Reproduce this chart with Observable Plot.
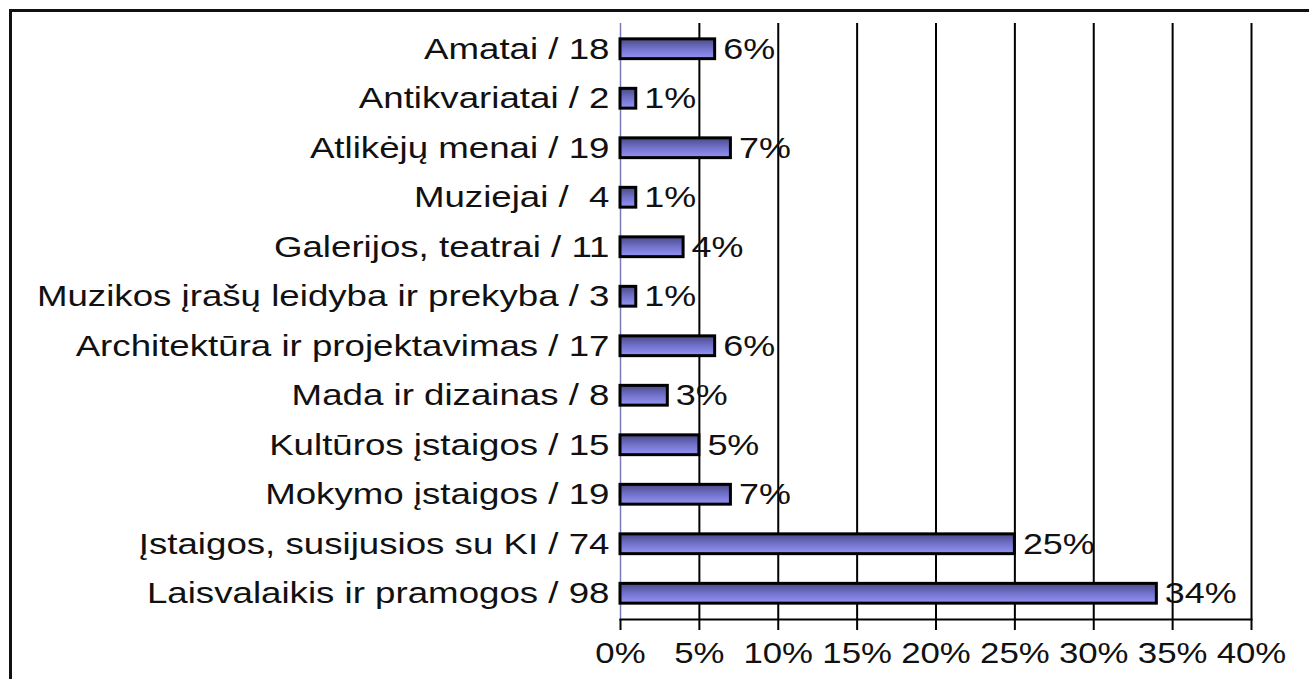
<!DOCTYPE html>
<html>
<head>
<meta charset="utf-8">
<script src="https://cdn.jsdelivr.net/npm/d3@7"></script>
<script src="https://cdn.jsdelivr.net/npm/@observablehq/plot@0.6"></script>
<style>
  html, body { margin: 0; padding: 0; background: #fff; overflow: hidden; width: 1309px; height: 679px; }
  #frame { position: absolute; left: 9px; top: 9px; width: 1320px; height: 720px; border: 3px solid #111; box-sizing: border-box; }
  #chart { position: absolute; left: 0; top: 0; }
  svg { font-family: "Liberation Sans", Arial, sans-serif; }
</style>
</head>
<body>
<div id="frame"></div>
<div id="chart"></div>
<script>
const categories = [
  "Amatai / 18",
  "Antikvariatai / 2",
  "Atlikėjų menai / 19",
  "Muziejai /  4",
  "Galerijos, teatrai / 11",
  "Muzikos įrašų leidyba ir prekyba / 3",
  "Architektūra ir projektavimas / 17",
  "Mada ir dizainas / 8",
  "Kultūros įstaigos / 15",
  "Mokymo įstaigos / 19",
  "Įstaigos, susijusios su KI / 74",
  "Laisvalaikis ir pramogos / 98"
];
const percents = [6, 1, 7, 1, 4, 1, 6, 3, 5, 7, 25, 34];
const xTicks = [0, 5, 10, 15, 20, 25, 30, 35, 40];

const data = categories.map((c, i) => ({ cat: c, v: percents[i] }));

const chart = Plot.plot({
  width: 1309,
  height: 679,
  marginLeft: 620,
  marginRight: 58,
  marginTop: 23,
  marginBottom: 60,
  style: { fontFamily: "Liberation Sans, Arial, sans-serif", background: "transparent" },
  x: { domain: [0, 40], label: null },
  y: { domain: categories, paddingInner: 0.6, paddingOuter: 0.32, round: false, label: null },
  marks: [
    Plot.ruleX(xTicks.filter(d => d > 0), { stroke: "#000", strokeWidth: 2 }),
    Plot.ruleX([0], { stroke: "#7a7ab8", strokeWidth: 1.5 }),
    Plot.frame({ anchor: "bottom", stroke: "#000", strokeWidth: 2 }),
    Plot.axisX({ ticks: xTicks, tickFormat: d => d + "%", tickSize: 11, tickPadding: 12, fontSize: 29, stroke: "#000", strokeWidth: 2, color: "#111", label: null }),
    Plot.axisY({ tickSize: 0, tickPadding: 11, fontSize: 29, color: "#111", label: null }),
    Plot.barX(data, { x: "v", y: "cat", fill: "url(#barGrad)", stroke: "#000", strokeWidth: 3 }),
    Plot.text(data, { x: "v", y: "cat", text: d => d.v + "%", textAnchor: "start", dx: 8, fontSize: 29, fill: "#111" })
  ]
});

const defs = document.createElementNS("http://www.w3.org/2000/svg", "defs");
defs.innerHTML = `<linearGradient id="barGrad" x1="0" y1="0" x2="0" y2="1">
  <stop offset="0%" stop-color="#4a4a86"/>
  <stop offset="50%" stop-color="#7272cc"/>
  <stop offset="100%" stop-color="#9494f4"/>
</linearGradient>`;
chart.insertBefore(defs, chart.firstChild);
// The reference's lettering is horizontally stretched; widen each text around its anchor.
const catSet = new Set(categories);
chart.querySelectorAll("text").forEach(t => {
  const s = t.textContent;
  const g = t.closest("g");
  const aria = g ? (g.getAttribute("aria-label") || "") : "";
  let k = 1.24;
  if (catSet.has(s)) k = 1.265;
  else if (aria.indexOf("x-axis") >= 0) k = 1.2;
  const tr = t.getAttribute("transform") || "";
  t.setAttribute("transform", tr + ` scale(${k},1)`);
});
document.getElementById("chart").appendChild(chart);
</script>
</body>
</html>
